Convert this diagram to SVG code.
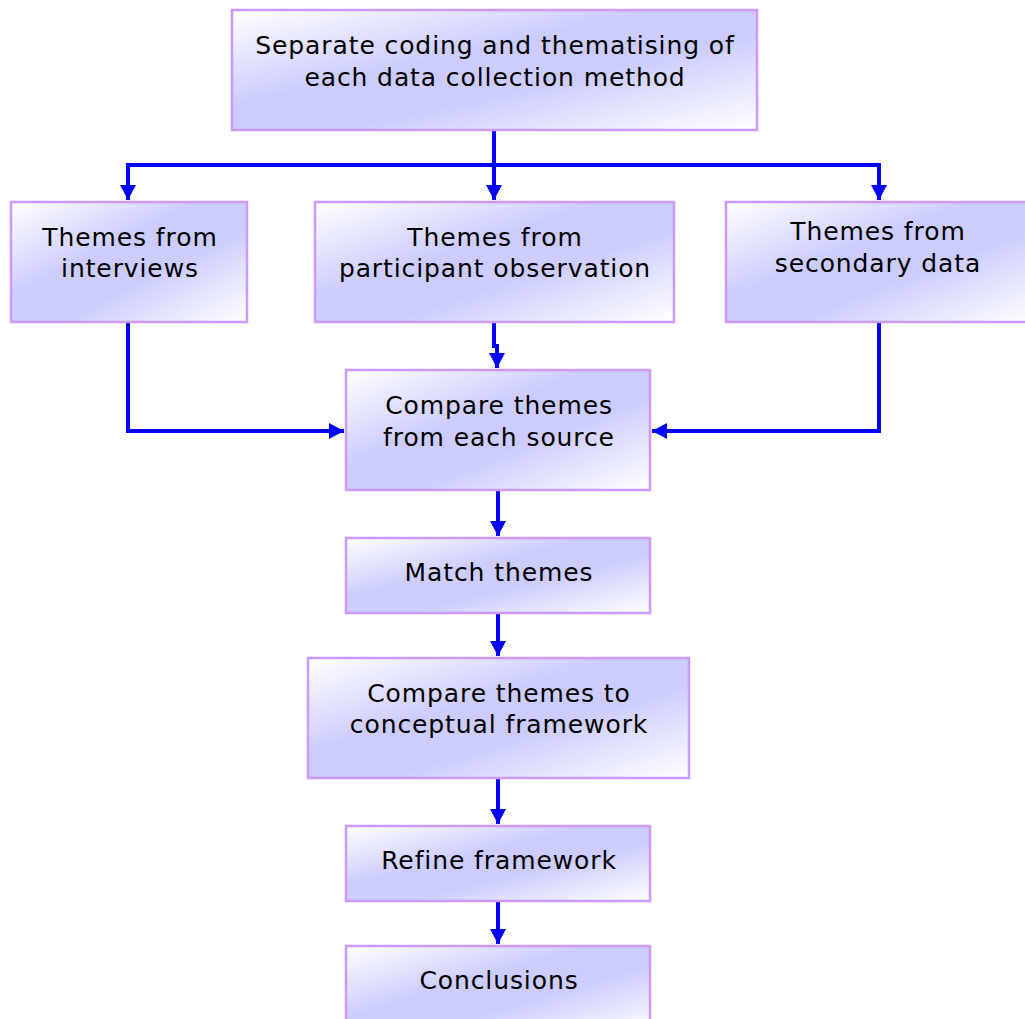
<svg xmlns="http://www.w3.org/2000/svg" width="1025" height="1019" viewBox="0 0 1025 1019">
  <defs>
    <linearGradient id="boxFill" x1="0" y1="0" x2="1" y2="1">
      <stop offset="0" stop-color="#ffffff"/>
      <stop offset="0.4" stop-color="#ccccff"/>
      <stop offset="0.6" stop-color="#ccccff"/>
      <stop offset="1" stop-color="#ffffff"/>
    </linearGradient>
    <marker id="arrow" markerUnits="userSpaceOnUse" markerWidth="18" markerHeight="18" viewBox="0 0 18 18" refX="15" refY="9" orient="auto">
      <path d="M0,1 L15,9 L0,17 Z" fill="#0000ff"/>
    </marker>
    <style>
      .box { fill: url(#boxFill); stroke: #cc99ff; stroke-width: 2.5; }
      .label { font-family: "DejaVu Sans", Verdana, sans-serif; font-size: 25px; letter-spacing: 0.9px; fill: #000; text-anchor: middle; }
      .conn { fill: none; stroke: #0000ff; stroke-width: 4; }
    </style>
  </defs>

  <!-- connectors -->
  <g id="connectors">
    <path class="conn" d="M494,130 V165 H128 V200" marker-end="url(#arrow)"/>
    <path class="conn" d="M494,165 V200" marker-end="url(#arrow)"/>
    <path class="conn" d="M494,165 H879 V200" marker-end="url(#arrow)"/>
    <path class="conn" d="M494,322 V346 H497 V368" marker-end="url(#arrow)"/>
    <path class="conn" d="M128,322 V431 H344" marker-end="url(#arrow)"/>
    <path class="conn" d="M879,322 V431 H652" marker-end="url(#arrow)"/>
    <path class="conn" d="M498,490 V536" marker-end="url(#arrow)"/>
    <path class="conn" d="M498,613 V656" marker-end="url(#arrow)"/>
    <path class="conn" d="M498,778 V824" marker-end="url(#arrow)"/>
    <path class="conn" d="M498,901 V944" marker-end="url(#arrow)"/>
  </g>

  <g id="separate-coding">
    <rect class="box" x="232" y="10" width="525" height="120"/>
    <text class="label" x="495" y="54">Separate coding and thematising of</text>
    <text class="label" x="495" y="86">each data collection method</text>
  </g>

  <g id="themes-interviews">
    <rect class="box" x="11" y="202" width="236" height="120"/>
    <text class="label" x="130" y="246">Themes from</text>
    <text class="label" x="130" y="277">interviews</text>
  </g>

  <g id="themes-observation">
    <rect class="box" x="315" y="202" width="359" height="120"/>
    <text class="label" x="495" y="246">Themes from</text>
    <text class="label" x="495" y="277">participant observation</text>
  </g>

  <g id="themes-secondary">
    <rect class="box" x="726" y="202" width="310" height="120"/>
    <text class="label" x="878" y="240">Themes from</text>
    <text class="label" x="878" y="272">secondary data</text>
  </g>

  <g id="compare-sources">
    <rect class="box" x="346" y="370" width="304" height="120"/>
    <text class="label" x="499" y="414">Compare themes</text>
    <text class="label" x="499" y="446">from each source</text>
  </g>

  <g id="match-themes">
    <rect class="box" x="346" y="538" width="304" height="75"/>
    <text class="label" x="499" y="581">Match themes</text>
  </g>

  <g id="compare-framework">
    <rect class="box" x="308" y="658" width="381" height="120"/>
    <text class="label" x="499" y="702">Compare themes to</text>
    <text class="label" x="499" y="733">conceptual framework</text>
  </g>

  <g id="refine-framework">
    <rect class="box" x="346" y="826" width="304" height="75"/>
    <text class="label" x="499" y="869">Refine framework</text>
  </g>

  <g id="conclusions">
    <rect class="box" x="346" y="946" width="304" height="90"/>
    <text class="label" x="499" y="989">Conclusions</text>
  </g>
</svg>
